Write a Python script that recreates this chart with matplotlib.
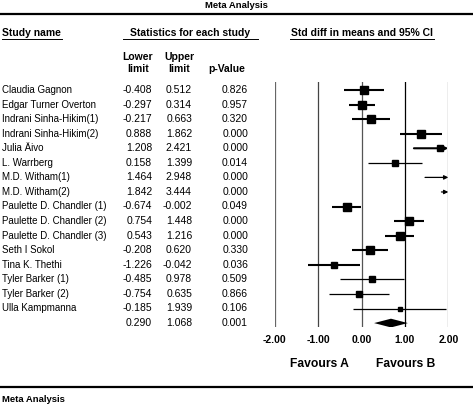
import numpy as np
import matplotlib
matplotlib.use("Agg")
import matplotlib.pyplot as plt

plt.rcParams['font.family'] = ['Liberation Sans', 'DejaVu Sans']

# study data
studies = ["Claudia Gagnon", "Edgar Turner Overton", "Indrani Sinha-Hikim(1)",
           "Indrani Sinha-Hikim(2)", "Julia Äivo", "L. Warrberg", "M.D. Witham(1)",
           "M.D. Witham(2)", "Paulette D. Chandler (1)", "Paulette D. Chandler (2)",
           "Paulette D. Chandler (3)", "Seth I Sokol", "Tina K. Thethi",
           "Tyler Barker (1)", "Tyler Barker (2)", "Ulla Kampmanna"]
lower = [-0.408, -0.297, -0.217, 0.888, 1.208, 0.158, 1.464, 1.842,
         -0.674, 0.754, 0.543, -0.208, -1.226, -0.485, -0.754, -0.185]
upper = [0.512, 0.314, 0.663, 1.862, 2.421, 1.399, 2.948, 3.444,
         -0.002, 1.448, 1.216, 0.620, -0.042, 0.978, 0.635, 1.939]
pvals = ["0.826", "0.957", "0.320", "0.000", "0.000", "0.014", "0.000", "0.000",
         "0.049", "0.000", "0.000", "0.330", "0.036", "0.509", "0.866", "0.106"]
sum_lower, sum_upper, sum_p = 0.290, 1.068, "0.001"
ticks = [-2, -1, 0, 1, 2]
tick_labels = ["-2.00", "-1.00", "0.00", "1.00", "2.00"]

W, H = 473, 405
fig = plt.figure(figsize=(W / 100, H / 100), dpi=100)

# background axes in pixel units for the table
bg = fig.add_axes([0, 0, 1, 1])
bg.set_xlim(0, W)
bg.set_ylim(H, 0)
bg.axis('off')

row0, dy = 90, 14.56
fs = 7.5

bg.text(236, 6, "Meta Analysis", ha='center', va='center', fontsize=6.8, fontweight='bold')
bg.plot([0, W], [13.5, 13.5], color='black', lw=1.6)

def header(x, text, ha, x0, x1):
    bg.text(x, 33, text, ha=ha, va='center', fontsize=fs, fontweight='bold')
    bg.plot([x0, x1], [38.5, 38.5], color='black', lw=0.7)

header(2, "Study name", 'left', 2, 62)
header(190.5, "Statistics for each study", 'center', 123, 258)
header(362, "Std diff in means and 95% CI", 'center', 290, 434)

bg.text(138, 57, "Lower", ha='center', va='center', fontsize=fs, fontweight='bold')
bg.text(138, 68.5, "limit", ha='center', va='center', fontsize=fs, fontweight='bold')
bg.text(179, 57, "Upper", ha='center', va='center', fontsize=fs, fontweight='bold')
bg.text(179, 68.5, "limit", ha='center', va='center', fontsize=fs, fontweight='bold')
bg.text(227, 68.5, "p-Value", ha='center', va='center', fontsize=fs, fontweight='bold')

for i, name in enumerate(studies):
    y = row0 + i * dy
    bg.text(2, y, name, ha='left', va='center', fontsize=7.05)
    bg.text(152, y, "%.3f" % lower[i], ha='right', va='center', fontsize=fs)
    bg.text(192, y, "%.3f" % upper[i], ha='right', va='center', fontsize=fs)
    bg.text(248, y, pvals[i], ha='right', va='center', fontsize=fs)
ys = row0 + len(studies) * dy
bg.text(152, ys, "%.3f" % sum_lower, ha='right', va='center', fontsize=fs)
bg.text(192, ys, "%.3f" % sum_upper, ha='right', va='center', fontsize=fs)
bg.text(248, ys, sum_p, ha='right', va='center', fontsize=fs)

bg.text(319, 364, "Favours A", ha='center', va='center', fontsize=8.7, fontweight='bold')
bg.text(406, 364, "Favours B", ha='center', va='center', fontsize=8.7, fontweight='bold')

bg.plot([0, W], [387, 387], color='black', lw=1.6)
bg.text(2, 399, "Meta Analysis", ha='left', va='center', fontsize=6.8, fontweight='bold')

# forest axes
px_l, px_r, px_t, px_b = 274.7, 448.3, 82, 327
ax = fig.add_axes([px_l / W, 1 - px_b / H, (px_r - px_l) / W, (px_b - px_t) / H])
ax.set_xlim(-2, 2)
n = len(studies)
ax.set_ylim(n + 0.27, -0.55)
for s in ax.spines.values():
    s.set_visible(False)
ax.set_yticks([])
ax.set_xticks(ticks)
ax.set_xticklabels(tick_labels, fontweight='bold', fontsize=7.5)
ax.tick_params(axis='x', length=0, pad=6)
ax.patch.set_alpha(0)

vcol = {-2: '#666666', -1: '#444444', 0: '#555555', 1: 'black', 2: '#777777'}
for t in ticks:
    ax.axvline(t, color=vcol[t], lw=0.9, zorder=1)

for i in range(n):
    lo, hi = lower[i], upper[i]
    est = (lo + hi) / 2
    width = hi - lo
    lw = 1.5 if width < 1.22 else 0.9
    side = 9.5 - 2.4 * width
    if hi > 2:
        ax.annotate("", xy=(2, i), xytext=(max(lo, -2), i),
                    arrowprops=dict(arrowstyle='-|>', color='black', lw=lw,
                                    mutation_scale=6, shrinkA=0, shrinkB=0), zorder=3)
    else:
        ax.plot([max(lo, -2), hi], [i, i], color='black', lw=lw, zorder=3,
                solid_capstyle='butt')
    if -2 <= est <= 2:
        ax.plot(est, i, marker='s', color='black', markersize=side * 0.72, zorder=4)

est = (sum_lower + sum_upper) / 2
ax.fill([sum_lower, est, sum_upper, est], [n, n - 0.3, n, n + 0.3],
        color='black', zorder=4, lw=0)

fig.savefig("out.png", dpi=100)
